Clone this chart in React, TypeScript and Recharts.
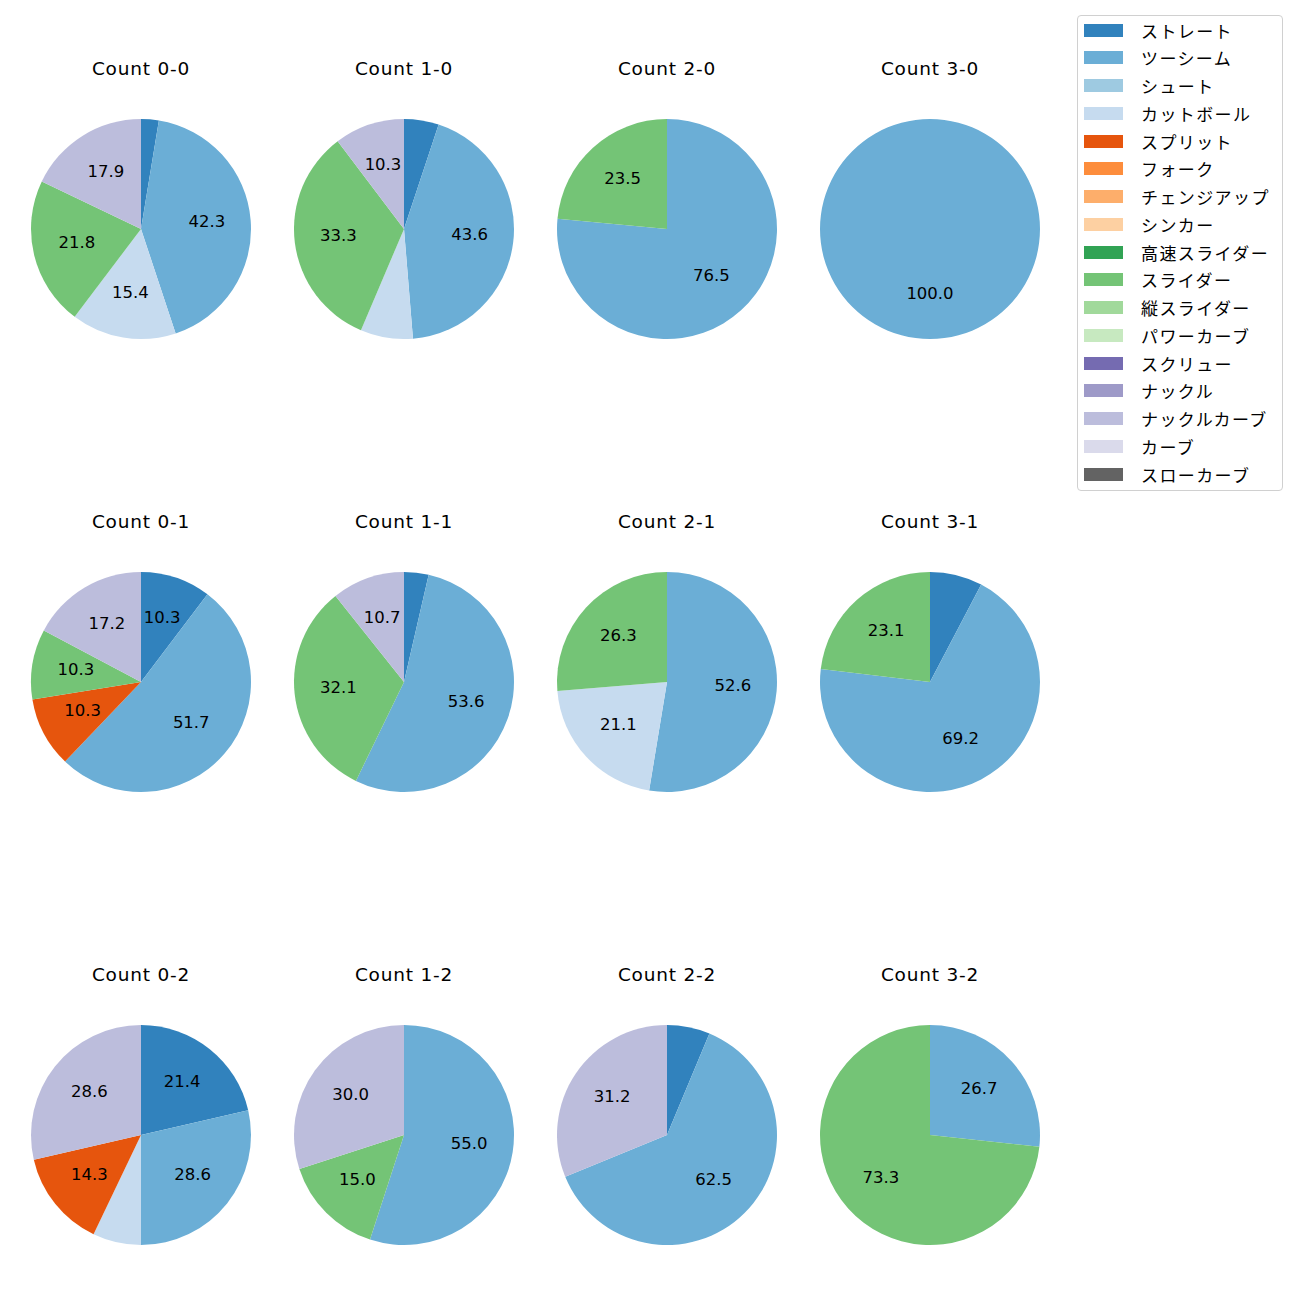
import React from "react";
import { PieChart, Pie, Cell } from "recharts";

const pitchTypes = [
  "ストレート",
  "ツーシーム",
  "シュート",
  "カットボール",
  "スプリット",
  "フォーク",
  "チェンジアップ",
  "シンカー",
  "高速スライダー",
  "スライダー",
  "縦スライダー",
  "パワーカーブ",
  "スクリュー",
  "ナックル",
  "ナックルカーブ",
  "カーブ",
  "スローカーブ",
];

const pitchColors = [
  "#3182bd", "#6baed6", "#9ecae1", "#c6dbef",
  "#e6550d", "#fd8d3c", "#fdae6b", "#fdd0a2",
  "#31a354", "#74c476", "#a1d99b", "#c7e9c0",
  "#756bb1", "#9e9ac8", "#bcbddc", "#dadaeb",
  "#636363",
];

// share (%) per pitch type, same order as pitchTypes
const count00 = [2.6, 42.3, 0, 15.4, 0, 0, 0, 0, 0, 21.8, 0, 0, 0, 0, 17.9, 0, 0];
const count10 = [5.1, 43.6, 0, 7.7, 0, 0, 0, 0, 0, 33.3, 0, 0, 0, 0, 10.3, 0, 0];
const count20 = [0, 76.5, 0, 0, 0, 0, 0, 0, 0, 23.5, 0, 0, 0, 0, 0, 0, 0];
const count30 = [0, 100.0, 0, 0, 0, 0, 0, 0, 0, 0, 0, 0, 0, 0, 0, 0, 0];
const count01 = [10.3, 51.7, 0, 0, 10.3, 0, 0, 0, 0, 10.3, 0, 0, 0, 0, 17.2, 0, 0];
const count11 = [3.6, 53.6, 0, 0, 0, 0, 0, 0, 0, 32.1, 0, 0, 0, 0, 10.7, 0, 0];
const count21 = [0, 52.6, 0, 21.1, 0, 0, 0, 0, 0, 26.3, 0, 0, 0, 0, 0, 0, 0];
const count31 = [7.7, 69.2, 0, 0, 0, 0, 0, 0, 0, 23.1, 0, 0, 0, 0, 0, 0, 0];
const count02 = [21.4, 28.6, 0, 7.1, 14.3, 0, 0, 0, 0, 0, 0, 0, 0, 0, 28.6, 0, 0];
const count12 = [0, 55.0, 0, 0, 0, 0, 0, 0, 0, 15.0, 0, 0, 0, 0, 30.0, 0, 0];
const count22 = [6.3, 62.5, 0, 0, 0, 0, 0, 0, 0, 0, 0, 0, 0, 0, 31.2, 0, 0];
const count32 = [0, 26.7, 0, 0, 0, 0, 0, 0, 0, 73.3, 0, 0, 0, 0, 0, 0, 0];

const panels = [
  { title: "Count 0-0", values: count00 },
  { title: "Count 1-0", values: count10 },
  { title: "Count 2-0", values: count20 },
  { title: "Count 3-0", values: count30 },
  { title: "Count 0-1", values: count01 },
  { title: "Count 1-1", values: count11 },
  { title: "Count 2-1", values: count21 },
  { title: "Count 3-1", values: count31 },
  { title: "Count 0-2", values: count02 },
  { title: "Count 1-2", values: count12 },
  { title: "Count 2-2", values: count22 },
  { title: "Count 3-2", values: count32 },
];

const CJK_FONT = "'Noto Sans CJK JP', 'Noto Sans', sans-serif";
const TITLE_FONT = "'DejaVu Sans', 'Noto Sans CJK JP', sans-serif";
const LABEL_FONT = "'DejaVu Sans', sans-serif";
const colX = [141, 404, 667, 930];
const rowY = [229, 682, 1135];
const R = 110;
const BOX = 240;
const RADIAN = Math.PI / 180;

const renderLabel = (props: any) => {
  const { cx, cy, midAngle, outerRadius, value } = props;
  if (value < 10) return null;
  const r = outerRadius * 0.6;
  const x = cx + r * Math.cos(-midAngle * RADIAN);
  const y = cy + r * Math.sin(-midAngle * RADIAN) - 2;
  return (
    <text
      x={x}
      y={y}
      fill="#000"
      textAnchor="middle"
      dominantBaseline="central"
      fontSize={16.5}
      fontFamily={LABEL_FONT}
    >
      {value.toFixed(1)}
    </text>
  );
};

function CountPie({ title, values, x, y }: { title: string; values: number[]; x: number; y: number }) {
  const data = values
    .map((v, i) => ({ name: pitchTypes[i], value: v, color: pitchColors[i] }))
    .filter((d) => d.value > 0);
  return (
    <>
      <div
        style={{
          position: "absolute",
          left: x - 100,
          top: y - 172,
          width: 200,
          height: 24,
          lineHeight: "24px",
          textAlign: "center",
          fontSize: 18.5,
          letterSpacing: 0.8,
          fontFamily: TITLE_FONT,
          color: "#000",
        }}
      >
        {title}
      </div>
      <div style={{ position: "absolute", left: x - BOX / 2, top: y - BOX / 2 }}>
        <PieChart width={BOX} height={BOX} margin={{ top: 0, right: 0, bottom: 0, left: 0 }}>
          <Pie
            data={data}
            dataKey="value"
            nameKey="name"
            cx={BOX / 2}
            cy={BOX / 2}
            outerRadius={R}
            startAngle={90}
            endAngle={-270}
            stroke="none"
            label={renderLabel}
            labelLine={false}
            isAnimationActive={false}
          >
            {data.map((d, i) => (
              <Cell key={`cell-${i}`} fill={d.color} />
            ))}
          </Pie>
        </PieChart>
      </div>
    </>
  );
}

function LegendBox() {
  return (
    <div
      style={{
        position: "absolute",
        left: 1077,
        top: 15,
        width: 204,
        height: 474,
        border: "1px solid #d0d0d0",
        borderRadius: 4,
        background: "#fff",
        fontFamily: CJK_FONT,
      }}
    >
      {pitchTypes.map((name, i) => (
        <div
          key={name}
          style={{
            position: "absolute",
            left: 6,
            top: 6 + i * 27.75,
            height: 16,
            display: "flex",
            alignItems: "center",
          }}
        >
          <div style={{ width: 39, height: 13, background: pitchColors[i] }} />
          <span style={{ marginLeft: 18, fontSize: 17, color: "#000", letterSpacing: 1.4, whiteSpace: "nowrap" }}>
            {name}
          </span>
        </div>
      ))}
    </div>
  );
}

export default function App() {
  return (
    <div
      style={{
        position: "absolute",
        left: 0,
        top: 0,
        width: 1300,
        height: 1300,
        background: "#fff",
        fontFamily: CJK_FONT,
      }}
    >
      {panels.map((p, i) => (
        <CountPie key={p.title} title={p.title} values={p.values} x={colX[i % 4]} y={rowY[Math.floor(i / 4)]} />
      ))}
      <LegendBox />
    </div>
  );
}
